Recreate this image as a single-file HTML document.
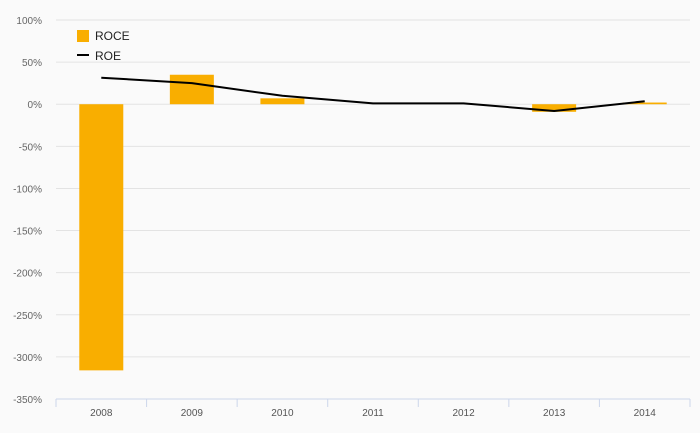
<!DOCTYPE html>
<html><head><meta charset="utf-8"><style>
body{margin:0;background:#fafafa;font-family:"Liberation Sans",sans-serif}
svg{display:block}
</style></head><body>
<svg id="chart" width="700" height="433">
<rect width="700" height="433" fill="#fafafa"/>
<g id="grid"></g><g id="bars"></g><g id="line"></g><g id="xaxis"></g>
<g>
<rect x="77" y="30" width="12" height="12" fill="#f9ae00"/>
<text x="95" y="40" font-size="12" fill="#222">ROCE</text>
<line x1="77" y1="55" x2="89" y2="55" stroke="#000" stroke-width="2"/>
<text x="95" y="60" font-size="12" fill="#222">ROE</text>
</g>
</svg>
<script>
const categories=["2008","2009","2010","2011","2012","2013","2014"];
const roce=[-316,35,7,0,0,-9,2];
const roe=[31.5,25,10,1,1,-8,3.5];
const yTicks=[100,50,0,-50,-100,-150,-200,-250,-300,-350];
const NS="http://www.w3.org/2000/svg";
const L=56,R=690,T=20,B=399,ymax=100,ymin=-350;
const y=v=>T+(ymax-v)/(ymax-ymin)*(B-T);
const bw=(R-L)/categories.length;
const xc=i=>L+bw*(i+0.5);
function mk(t,a,p){const e=document.createElementNS(NS,t);for(const k in a)e.setAttribute(k,a[k]);p.appendChild(e);return e;}
const g=document.getElementById('grid');
yTicks.forEach(v=>{
 const ln=mk('line',{x1:L,x2:R,y1:y(v),y2:y(v),stroke:'#e3e3e3','stroke-width':1},g);
 
 
 const t=mk('text',{x:42,y:y(v)+4,'text-anchor':'end','font-size':10,fill:'#666'},g);
 t.textContent=v+'%';
 
 
});
const xa=document.getElementById('xaxis');
const ax=mk('line',{x1:L,x2:R,y1:B,y2:B,stroke:'#ccd6eb'},xa);


categories.forEach((c,i)=>{
 const tk=mk('line',{x1:L+bw*i,x2:L+bw*i,y1:B,y2:B+8,stroke:'#ccd6eb'},xa);
 
 
 const t=mk('text',{x:xc(i),y:B+17,'text-anchor':'middle','font-size':10,fill:'#555'},xa);
 t.textContent=c;
 
 
});
const tk=mk('line',{x1:R,x2:R,y1:B,y2:B+8,stroke:'#ccd6eb'},xa);


const bg=document.getElementById('bars');
roce.forEach((v,i)=>{
 const y0=y(0),y1=y(v);
 const r=mk('rect',{x:xc(i)-22,width:44,y:Math.min(y0,y1),height:Math.abs(y1-y0),fill:'#f9ae00'},bg);
 
 
});
const pts=roe.map((v,i)=>xc(i)+','+y(v)).join(' ');
const pl=mk('polyline',{points:pts,fill:'none',stroke:'#000','stroke-width':2,'stroke-linejoin':'round'},document.getElementById('line'));


</script>
</body></html>
